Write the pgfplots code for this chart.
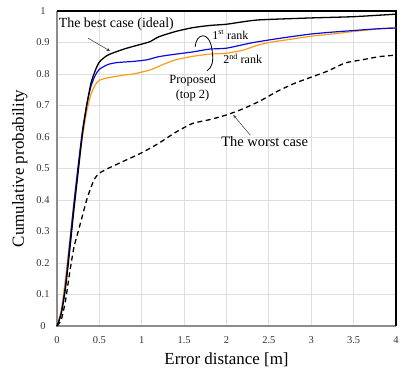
\documentclass[border=0pt]{standalone}
\usepackage{fontspec}
\setmainfont{Liberation Serif}
\usepackage{pgfplots}
\pgfplotsset{compat=1.18}
\definecolor{myblue}{RGB}{10,10,220}
\definecolor{myorange}{RGB}{255,155,20}
\definecolor{gridgray}{RGB}{222,222,222}
\begin{document}
\begin{tikzpicture}
\begin{axis}[name=ax,
  scale only axis, width=339bp, height=315bp,
  xmin=0, xmax=4, ymin=0, ymax=1,
  xtick={0,0.5,...,4}, ytick={0,0.1,...,1},
  xticklabels={0,0.5,1,1.5,2,2.5,3,3.5,4},
  yticklabels={0,0.1,0.2,0.3,0.4,0.5,0.6,0.7,0.8,0.9,1},
  major tick length=0pt,
  grid=major, grid style={gridgray, line width=0.8pt},
  axis line style={draw=none},
  /pgf/number format/assume math mode=true,
  tick label style={font=\fontsize{10.5}{12}\selectfont, text=black!80},
  xticklabel style={anchor=center, yshift=-14bp},
  yticklabel style={anchor=center, xshift=-14bp},
  xlabel={Error distance [m]}, ylabel={Cumulative probability},
  label style={font=\fontsize{17}{20}\selectfont},
  xlabel style={yshift=-2pt},
  ylabel style={yshift=2pt},
  clip=false,
]
\draw[black!45, line width=2.2pt] (rel axis cs:0,1) -- (rel axis cs:0,0) -- (rel axis cs:1,0);
\draw[black, line width=1.2pt] (rel axis cs:0,1) -- (rel axis cs:1,1) -- (rel axis cs:1,0);
% worst case
\addplot[black, line width=1.3pt, dash pattern=on 5pt off 3.5pt, smooth, tension=0.4] coordinates {
(0,0)(0.05,0.02)(0.1,0.08)(0.15,0.17)(0.2,0.25)(0.25,0.30)(0.3,0.35)(0.35,0.40)(0.4,0.44)(0.45,0.47)(0.5,0.485)(0.6,0.50)(0.8,0.525)(1.0,0.55)(1.2,0.58)(1.4,0.615)(1.6,0.643)(1.8,0.655)(2.0,0.67)(2.2,0.69)(2.4,0.715)(2.6,0.745)(2.8,0.77)(3.0,0.79)(3.2,0.81)(3.4,0.835)(3.6,0.845)(3.8,0.855)(4,0.86)};
% 2nd rank
\addplot[myorange, line width=1.2pt, smooth, tension=0.4] coordinates {
(0,0)(0.05,0.05)(0.1,0.15)(0.15,0.27)(0.2,0.39)(0.25,0.5)(0.3,0.6)(0.35,0.68)(0.4,0.735)(0.45,0.765)(0.5,0.78)(0.6,0.788)(0.8,0.797)(0.9,0.80)(1.1,0.813)(1.25,0.83)(1.4,0.845)(1.6,0.856)(1.8,0.863)(2.0,0.866)(2.2,0.876)(2.35,0.89)(2.5,0.90)(2.75,0.91)(3.0,0.92)(3.25,0.927)(3.5,0.935)(3.75,0.942)(4,0.948)};
% 1st rank
\addplot[myblue, line width=1.2pt, smooth, tension=0.4] coordinates {
(0,0)(0.05,0.04)(0.1,0.13)(0.15,0.26)(0.2,0.39)(0.25,0.51)(0.3,0.62)(0.35,0.70)(0.4,0.76)(0.45,0.795)(0.5,0.815)(0.6,0.83)(0.7,0.836)(0.9,0.84)(1.06,0.845)(1.2,0.855)(1.4,0.863)(1.6,0.87)(1.8,0.879)(2.0,0.882)(2.28,0.898)(2.5,0.908)(2.75,0.918)(3.0,0.927)(3.25,0.933)(3.5,0.938)(3.75,0.943)(4,0.946)};
% best case
\addplot[black, line width=1.3pt, smooth, tension=0.4] coordinates {
(0,0)(0.05,0.04)(0.1,0.12)(0.15,0.24)(0.2,0.37)(0.25,0.49)(0.3,0.61)(0.35,0.70)(0.4,0.77)(0.45,0.81)(0.5,0.838)(0.6,0.86)(0.8,0.88)(1.0,0.895)(1.1,0.903)(1.2,0.918)(1.4,0.935)(1.6,0.947)(1.8,0.954)(2.0,0.958)(2.2,0.966)(2.4,0.972)(3.0,0.978)(3.5,0.982)(4,0.99)};
% annotations
\node[font=\fontsize{14}{16}\selectfont] at (axis cs:0.70,0.959) {The best case (ideal)};
\draw[->, >=stealth, black!80, line width=0.5pt] (axis cs:0.366,0.914) -- (axis cs:0.625,0.873);
\node[font=\fontsize{14.5}{16}\selectfont] at (axis cs:2.45,0.584) {The worst case};
\draw[->, >=stealth, black!80, line width=0.5pt] (axis cs:2.28,0.606) -- (axis cs:2.08,0.67);
\node[anchor=west, font=\fontsize{12}{14}\selectfont, inner sep=0pt] at (axis cs:1.83,0.924) {1\textsuperscript{st} rank};
\node[anchor=west, font=\fontsize{12}{14}\selectfont, inner sep=0pt] at (axis cs:1.96,0.848) {2\textsuperscript{nd} rank};
\node[align=center, font=\fontsize{12.5}{15}\selectfont] at (axis cs:1.6,0.757) {Proposed\\(top 2)};
\draw[black, line width=0.8pt] (axis cs:1.63,0.886) .. controls (axis cs:1.64,0.93) and (axis cs:1.80,0.94) .. (axis cs:1.83,0.875) .. controls (axis cs:1.85,0.84) and (axis cs:1.83,0.82) .. (axis cs:1.77,0.81);
\end{axis}
\path (ax.south west) +(-57bp,-53bp);
\path (ax.north east) +(13bp,11bp);
\end{tikzpicture}
\end{document}
